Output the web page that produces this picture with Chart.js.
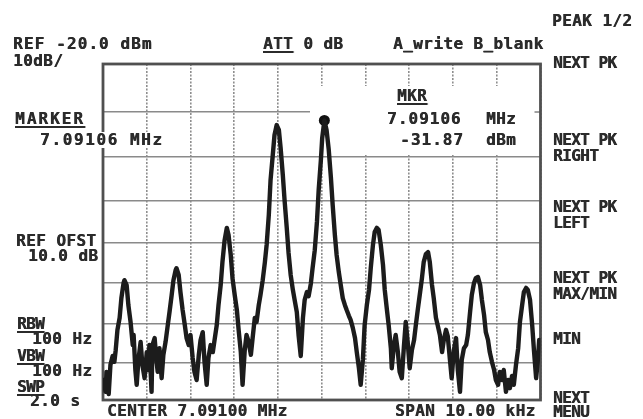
<!DOCTYPE html>
<html>
<head>
<meta charset="utf-8">
<script src="https://cdn.jsdelivr.net/npm/chart.js@4/dist/chart.umd.min.js"></script>
<style>
  html, body { margin: 0; padding: 0; background: #fff; }
  #wrap { position: relative; width: 643px; height: 419px; overflow: hidden; background: #fff; }
  canvas { position: absolute; left: 0; top: 0; }
  .t { position: absolute; font-family: "DejaVu Sans Mono", monospace; font-weight: bold; font-size: 16px;
       line-height: 16px; color: #2b2b2b; white-space: pre; letter-spacing: 0.4px;
       text-shadow: 0.5px 0 0 #2b2b2b; }
  .u { text-decoration: underline; text-decoration-thickness: 2px; text-underline-offset: 2px; }
  .m { letter-spacing: -0.6px; }
  .bg { background: #fff; }
</style>
</head>
<body>
<div id="wrap">
  <canvas id="c" width="643" height="419"></canvas>

  <div class="t" style="left:552px; top:13px;">PEAK 1/2</div>
  <div class="t" style="left:13px; top:36px; letter-spacing:1.1px;">REF -20.0 dBm</div>
  <div class="t" style="left:13px; top:53px;">10dB/</div>
  <div class="t" style="left:263px; top:36px;"><span class="u">ATT</span> 0 dB</div>
  <div class="t" style="left:393px; top:36px;">A_write B_blank</div>
  <div class="t m" style="left:553px; top:55px;">NEXT PK</div>

  <div class="t u" style="left:15px; top:111px; letter-spacing:2px;">MARKER</div>
  <div class="t bg" style="left:40px; top:132px; letter-spacing:1.6px;">7.09106 MHz</div>

  <div class="t u" style="left:397px; top:88px;">MKR</div>
  <div class="t" style="left:387px; top:111px; letter-spacing:1px;">7.09106</div>
  <div class="t" style="left:486px; top:111px;">MHz</div>
  <div class="t" style="left:400px; top:132px; letter-spacing:1px;">-31.87</div>
  <div class="t" style="left:486px; top:132px;">dBm</div>

  <div class="t m" style="left:553px; top:132px;">NEXT PK</div>
  <div class="t m" style="left:553px; top:148px;">RIGHT</div>
  <div class="t m" style="left:553px; top:199px;">NEXT PK</div>
  <div class="t m" style="left:553px; top:215px;">LEFT</div>
  <div class="t m" style="left:553px; top:270px;">NEXT PK</div>
  <div class="t m" style="left:553px; top:286px;">MAX/MIN</div>
  <div class="t m" style="left:553px; top:331px;">MIN</div>
  <div class="t m" style="left:553px; top:390px;">NEXT</div>
  <div class="t m" style="left:553px; top:404px;">MENU</div>

  <div class="t" style="left:16px; top:233px;">REF OFST</div>
  <div class="t" style="left:28px; top:248px;">10.0 dB</div>
  <div class="t u m" style="left:17px; top:316px;">RBW</div>
  <div class="t" style="left:32px; top:331px;">100 Hz</div>
  <div class="t u m" style="left:17px; top:348px;">VBW</div>
  <div class="t" style="left:32px; top:363px;">100 Hz</div>
  <div class="t u m" style="left:17px; top:379px;">SWP</div>
  <div class="t" style="left:30px; top:393px;">2.0 s</div>

  <div class="t" style="left:107px; top:403px;">CENTER 7.09100 MHz</div>
  <div class="t" style="left:395px; top:403px;">SPAN 10.00 kHz</div>
</div>

<script>
// ---- data (frequency offset from centre in kHz, level in dBm) ----
const centerMHz = 7.091;
const spanKHz = 10;
const refLevelDbm = -20;
const dbPerDiv = 10;
const freqKHz = [
  -4.99,-4.94,-4.92,-4.87,-4.83,-4.78,-4.74,-4.71,-4.67,-4.62,
  -4.58,-4.53,-4.51,-4.46,-4.42,-4.37,-4.32,-4.30,-4.26,-4.23,
  -4.19,-4.14,-4.10,-4.05,-4.00,-3.96,-3.94,-3.89,-3.87,-3.82,
  -3.78,-3.75,-3.71,-3.66,-3.62,-3.57,-3.52,-3.48,-3.43,-3.39,
  -3.34,-3.32,-3.27,-3.23,-3.18,-3.13,-3.09,-3.04,-3.00,-2.95,
  -2.91,-2.86,-2.81,-2.77,-2.72,-2.68,-2.63,-2.59,-2.54,-2.49,
  -2.45,-2.40,-2.36,-2.31,-2.27,-2.22,-2.17,-2.13,-2.08,-2.04,
  -1.99,-1.94,-1.90,-1.85,-1.81,-1.76,-1.72,-1.67,-1.62,-1.58,
  -1.53,-1.49,-1.44,-1.40,-1.35,-1.30,-1.26,-1.21,-1.17,-1.12,
  -1.08,-1.03,-0.98,-0.94,-0.89,-0.85,-0.80,-0.76,-0.71,-0.66,
  -0.62,-0.57,-0.53,-0.48,-0.43,-0.39,-0.34,-0.30,-0.25,-0.21,
  -0.16,-0.11,-0.07,-0.02,0.01,0.06,0.11,0.16,0.21,0.25,
  0.30,0.34,0.39,0.43,0.48,0.53,0.57,0.62,0.66,0.71,
  0.76,0.80,0.85,0.89,0.94,0.98,1.03,1.08,1.12,1.17,
  1.21,1.26,1.30,1.35,1.40,1.44,1.49,1.53,1.58,1.60,
  1.65,1.69,1.74,1.78,1.83,1.88,1.92,1.97,2.01,2.06,
  2.11,2.15,2.20,2.24,2.29,2.33,2.38,2.43,2.47,2.52,
  2.56,2.61,2.65,2.70,2.75,2.79,2.84,2.88,2.93,2.97,
  3.02,3.07,3.11,3.16,3.20,3.25,3.30,3.34,3.39,3.43,
  3.48,3.52,3.57,3.62,3.66,3.71,3.75,3.80,3.84,3.89,
  3.94,3.98,4.03,4.07,4.12,4.16,4.21,4.26,4.30,4.35,
  4.39,4.44,4.49,4.53,4.58,4.62,4.67,4.71,4.76,4.81,
  4.85,4.90,4.94,4.97
];
const levelDbm = [
  -94.6,-97.8,-92.4,-98.4,-90.5,-88.2,-89.7,-86.7,-81.5,-78.5,
  -73.7,-70.0,-69.3,-70.5,-75.4,-79.5,-85.4,-82.8,-91.9,-95.9,
  -89.2,-84.6,-90.5,-94.1,-87.2,-91.9,-85.4,-97.8,-85.4,-83.6,
  -89.2,-92.4,-86.2,-94.1,-87.9,-84.6,-80.3,-77.1,-72.9,-69.3,
  -66.8,-66.3,-68.0,-72.2,-76.6,-80.3,-83.6,-85.4,-82.8,-88.7,
  -92.4,-94.6,-87.9,-84.1,-82.1,-89.7,-95.9,-88.7,-85.4,-87.2,
  -84.1,-80.3,-75.4,-70.5,-64.8,-59.3,-56.4,-58.1,-63.0,-68.8,
  -72.9,-76.6,-81.5,-87.2,-95.9,-86.7,-82.8,-84.6,-87.9,-83.6,
  -78.5,-79.5,-75.4,-72.9,-69.3,-64.8,-60.5,-53.3,-45.2,-39.6,
  -35.1,-32.9,-34.0,-38.0,-44.1,-49.8,-56.4,-62.3,-68.0,-71.7,
  -74.1,-77.1,-82.8,-88.2,-78.5,-74.1,-72.2,-73.2,-70.2,-66.3,
  -61.8,-55.0,-47.5,-40.7,-35.8,-31.87,-34.0,-38.4,-44.8,-51.0,
  -58.1,-63.0,-67.3,-70.2,-73.7,-75.4,-76.6,-78.0,-79.0,-81.0,
  -83.6,-87.2,-91.4,-95.9,-89.2,-80.3,-75.4,-71.7,-66.3,-60.5,
  -57.4,-56.4,-56.9,-60.5,-65.5,-71.7,-76.6,-80.3,-86.2,-91.4,
  -85.4,-82.8,-87.2,-92.4,-94.1,-85.4,-79.5,-85.4,-91.4,-86.7,
  -84.1,-80.3,-76.1,-72.9,-68.8,-64.8,-62.8,-62.3,-64.8,-70.5,
  -73.7,-78.5,-80.3,-82.8,-87.2,-84.1,-81.5,-83.1,-89.2,-94.1,
  -86.7,-83.6,-91.9,-97.8,-89.2,-86.2,-85.4,-82.8,-77.1,-72.9,
  -70.0,-68.8,-68.5,-70.5,-74.1,-77.8,-82.1,-84.1,-87.2,-89.7,
  -91.9,-94.6,-95.9,-92.4,-94.6,-91.9,-97.8,-94.6,-96.8,-93.5,
  -95.9,-90.5,-86.2,-79.5,-75.4,-72.2,-71.2,-71.7,-74.1,-80.3,
  -86.7,-94.1,-89.2,-84.1
];
const markerFreqKHz = [0.06];   // 7.09106 MHz
const markerLevelDbm = [-31.87];

// ---- a linear scale whose divisions follow the slightly uneven CRT graticule ----
const crtDivisionFractions = [0, 0.1429, 0.2768, 0.4077, 0.5327, 0.6518, 0.7738, 0.8899, 1];
class CrtScale extends Chart.LinearScale {
  getPixelForValue(value) {
    const n = crtDivisionFractions.length - 1;
    const t = (this.max - value) / (this.max - this.min) * n;
    const i = Math.max(0, Math.min(n - 1, Math.floor(t)));
    const f = crtDivisionFractions[i] + (t - i) * (crtDivisionFractions[i + 1] - crtDivisionFractions[i]);
    return this.top + f * (this.bottom - this.top);
  }
  getValueForPixel(pixel) {
    const n = crtDivisionFractions.length - 1;
    const f = (pixel - this.top) / (this.bottom - this.top);
    let i = 0;
    while (i < n - 1 && f > crtDivisionFractions[i + 1]) i++;
    const t = i + (f - crtDivisionFractions[i]) / (crtDivisionFractions[i + 1] - crtDivisionFractions[i]);
    return this.max - t / n * (this.max - this.min);
  }
}
CrtScale.id = 'crt';
CrtScale.defaults = Chart.LinearScale.defaults;
Chart.register(CrtScale);

const crtOverlay = {
  id: 'crtOverlay',
  beforeDatasetsDraw(chart) {
    const { ctx, chartArea: a, scales: { y } } = chart;
    const y30 = y.getPixelForValue(-30);
    const y40 = y.getPixelForValue(-40);
    ctx.save();
    // marker read-out window hides the graticule behind it
    const bx = a.left + 207;
    const by = a.top + 22;
    ctx.fillStyle = '#ffffff';
    ctx.fillRect(bx, by, a.right - bx, (y40 - 2.5) - by);
    ctx.strokeStyle = '#8a8a8a';
    ctx.lineWidth = 1.6;
    ctx.beginPath();
    ctx.moveTo(a.right - 6, y30);
    ctx.lineTo(a.right, y30);
    ctx.stroke();
    // frame
    ctx.strokeStyle = '#505050';
    ctx.lineWidth = 2.8;
    ctx.strokeRect(a.left, a.top, a.right - a.left, a.bottom - a.top);
    ctx.restore();
  }
};

new Chart(document.getElementById('c'), {
  type: 'line',
  data: {
    datasets: [
      {
        label: 'Trace A',
        data: freqKHz.map((f, i) => ({ x: f, y: levelDbm[i] })),
        borderColor: '#1c1c1c',
        borderWidth: 4.4,
        borderJoinStyle: 'round',
        borderCapStyle: 'round',
        pointRadius: 0,
        tension: 0,
        fill: false
      },
      {
        label: 'Marker',
        data: markerFreqKHz.map((f, i) => ({ x: f, y: markerLevelDbm[i] })),
        showLine: false,
        pointRadius: 5.5,
        pointBackgroundColor: '#111111',
        pointBorderColor: '#111111',
        pointBorderWidth: 0
      }
    ]
  },
  options: {
    responsive: false,
    devicePixelRatio: 1,
    animation: false,
    events: [],
    layout: { padding: { left: 103, right: 102.5, top: 64, bottom: 19 } },
    plugins: { legend: { display: false }, tooltip: { enabled: false } },
    scales: {
      x: {
        type: 'linear',
        min: -spanKHz / 2,
        max: spanKHz / 2,
        ticks: { display: false, stepSize: 1 },
        grid: { color: '#8e8e8e', lineWidth: 1.6, drawTicks: false },
        border: { display: false, dash: [2, 1.5] }
      },
      y: {
        type: 'crt',
        min: refLevelDbm - 8 * dbPerDiv,
        max: refLevelDbm,
        ticks: { display: false, stepSize: dbPerDiv },
        grid: { color: '#8a8a8a', lineWidth: 1.6, drawTicks: false },
        border: { display: false }
      }
    }
  },
  plugins: [crtOverlay]
});
</script>
</body>
</html>
